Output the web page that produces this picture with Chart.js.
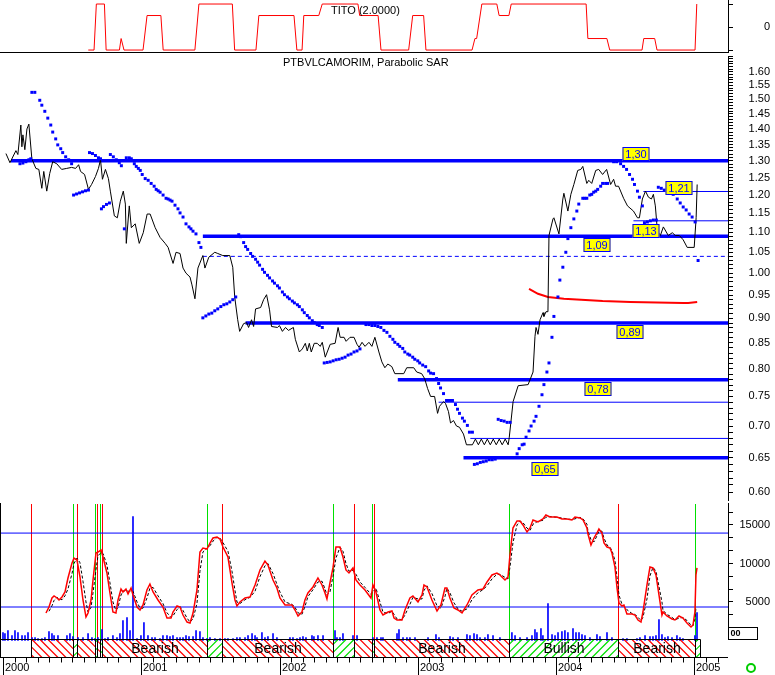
<!DOCTYPE html>
<html>
<head>
<meta charset="utf-8">
<title>PTBVLCAMORIM, Parabolic SAR</title>
<script src="https://cdn.jsdelivr.net/npm/chart.js@4.4.0/dist/chart.umd.min.js"></script>
<style>
  body { margin: 0; background: #fff; }
  #wrap { position: relative; width: 775px; height: 675px; overflow: hidden; }
  canvas { position: absolute; left: 0; }
</style>
</head>
<body>
<div id="wrap">
  <canvas id="titoChart" width="775" height="53" style="top:0"></canvas>
  <canvas id="priceChart" width="775" height="452" style="top:52px"></canvas>
  <canvas id="oscChart" width="775" height="172" style="top:503px"></canvas>
</div>
<script>
// x values are months since January 2000
const yearLabels = ['2000', '2001', '2002', '2003', '2004', '2005'];

// TITO indicator (top panel)
const titoPoints = [[7.4,-2],[7.9,-2],[8.1,2],[8.8,2],[8.95,-2],[10.1,-2],[10.25,-1],[10.5,-2],[12.15,-2],[12.5,1],[13.7,1],[13.9,-2],[16.65,-2],[17.0,2],[19.9,2],[20.1,-2],[21.95,-2],[22.2,1],[25.25,1],[25.5,-2],[25.95,-2],[26.1,1],[27.4,1],[27.7,2],[30.8,2],[30.95,1],[32.55,1],[32.8,-2],[35.2,-2],[35.55,1],[36.5,1],[36.7,-2],[40.7,-2],[40.95,-1],[41.1,-1],[41.55,2],[42.85,2],[43.05,1],[43.9,1],[44.1,2],[50.6,2],[50.75,-1],[52.4,-1],[52.65,-2],[55.45,-2],[55.6,-1],[56.55,-1],[56.75,-2],[60.05,-2],[60.2,2]];
const titoTicks = [-2, 0, 2];

// price (closing)
const pricePoints = [[-0.09,1.322],[0.26,1.294],[0.78,1.331],[0.95,1.319],[1.21,1.413],[1.30,1.343],[1.39,1.381],[1.56,1.334],[1.74,1.400],[1.91,1.416],[2.17,1.306],[2.52,1.277],[2.78,1.274],[3.04,1.219],[3.21,1.268],[3.47,1.211],[3.73,1.262],[3.99,1.297],[4.34,1.291],[4.77,1.274],[5.21,1.277],[5.64,1.280],[5.99,1.277],[6.25,1.288],[6.42,1.268],[6.77,1.259],[7.11,1.216],[7.38,1.230],[7.72,1.253],[7.98,1.277],[8.16,1.303],[8.33,1.245],[8.59,1.274],[8.85,1.247],[9.02,1.211],[9.37,1.143],[9.63,1.138],[9.89,1.183],[10.15,1.211],[10.33,1.175],[10.41,1.072],[10.67,1.170],[10.85,1.112],[11.19,1.122],[11.54,1.072],[11.89,1.099],[12.23,1.148],[12.49,1.148],[12.93,1.112],[13.36,1.087],[13.80,1.072],[14.06,1.062],[14.49,1.023],[14.75,1.050],[15.10,1.047],[15.36,1.012],[15.62,1.000],[15.97,0.991],[16.14,0.973],[16.40,0.942],[16.66,1.012],[17.09,1.042],[17.27,1.012],[17.61,1.038],[18.13,1.050],[18.39,1.047],[18.83,1.042],[19.44,1.042],[19.70,1.014],[19.87,0.946],[20.13,0.897],[20.30,0.873],[20.65,0.889],[20.91,0.891],[21.08,0.881],[21.34,0.897],[21.52,0.883],[21.69,0.920],[22.13,0.923],[22.39,0.940],[22.65,0.951],[22.91,0.918],[23.08,0.883],[23.60,0.881],[23.77,0.885],[24.03,0.873],[24.30,0.881],[24.56,0.875],[24.99,0.881],[25.16,0.857],[25.51,0.832],[25.77,0.838],[26.03,0.849],[26.20,0.834],[26.38,0.849],[26.55,0.832],[26.81,0.849],[27.07,0.849],[27.33,0.843],[27.51,0.851],[27.77,0.822],[28.20,0.847],[28.63,0.849],[28.89,0.881],[29.07,0.861],[29.41,0.861],[29.59,0.853],[29.93,0.861],[30.28,0.861],[30.54,0.847],[30.72,0.841],[30.98,0.851],[31.24,0.843],[31.58,0.851],[31.84,0.843],[32.10,0.861],[32.45,0.832],[32.71,0.813],[32.97,0.802],[33.23,0.809],[33.58,0.804],[33.84,0.791],[34.62,0.791],[34.88,0.802],[35.49,0.802],[35.75,0.794],[36.18,0.791],[36.44,0.782],[36.70,0.764],[36.96,0.750],[37.31,0.750],[37.57,0.721],[37.74,0.733],[38.09,0.741],[38.26,0.738],[38.52,0.724],[38.70,0.705],[38.96,0.709],[39.22,0.700],[39.48,0.698],[39.83,0.687],[40.09,0.670],[40.61,0.670],[40.87,0.679],[41.13,0.670],[41.39,0.679],[41.65,0.670],[41.91,0.679],[42.17,0.670],[42.43,0.679],[42.69,0.670],[42.95,0.679],[43.21,0.670],[43.47,0.679],[43.73,0.670],[43.82,0.681],[44.16,0.741],[44.60,0.769],[45.47,0.771],[45.90,0.794],[46.07,0.863],[46.16,0.881],[46.33,0.867],[46.51,0.897],[46.77,0.912],[46.85,0.904],[47.03,0.914],[47.20,0.914],[47.29,1.092],[47.64,1.135],[47.72,1.138],[48.16,1.096],[48.50,1.189],[48.59,1.205],[48.94,1.156],[49.20,1.202],[49.46,1.230],[49.80,1.271],[50.07,1.274],[50.24,1.283],[50.59,1.233],[50.76,1.242],[51.02,1.233],[51.37,1.271],[51.63,1.274],[51.97,1.259],[52.32,1.274],[52.67,1.230],[52.93,1.245],[53.10,1.225],[53.36,1.225],[53.80,1.191],[54.14,1.170],[54.66,1.156],[55.01,1.138],[55.18,1.138],[55.44,1.189],[55.71,1.211],[55.97,1.194],[56.23,1.189],[56.40,1.202],[56.57,1.170],[56.75,1.104],[57.01,1.092],[57.27,1.114],[57.70,1.092],[58.05,1.099],[58.31,1.092],[58.66,1.092],[59.00,1.081],[59.35,1.062],[59.96,1.062],[60.13,1.138],[60.22,1.230]];

// Parabolic SAR dots
const sarPoints = [[1.13,1.291],[1.39,1.293],[1.65,1.297],[1.91,1.303],[2.08,1.306],
  [2.17,1.525],[2.43,1.525],[2.86,1.497],[3.04,1.480],[3.30,1.459],[3.56,1.436],[3.82,1.413],[3.99,1.390],[4.25,1.368],[4.43,1.349],[4.69,1.337],[4.86,1.325],[5.12,1.312],[5.38,1.303],[5.64,1.291],
  [5.81,1.200],[6.07,1.203],[6.33,1.206],[6.59,1.209],[6.85,1.212],[7.11,1.214],
  [7.20,1.325],[7.46,1.322],[7.72,1.316],[7.98,1.309],[8.16,1.306],
  [8.24,1.162],[8.42,1.168],[8.68,1.174],[8.94,1.178],
  [9.02,1.319],[9.28,1.312],[9.54,1.303],[9.80,1.294],[9.98,1.285],
  [10.24,1.109],
  [10.41,1.309],[10.67,1.309],[10.85,1.306],[11.11,1.291],[11.28,1.283],[11.46,1.277],[11.63,1.271],[11.80,1.259],[12.06,1.247],[12.32,1.242],[12.58,1.233],[12.84,1.225],[13.02,1.216],[13.19,1.212],[13.36,1.208],[13.62,1.200],[13.88,1.191],[14.06,1.189],[14.23,1.186],[14.40,1.183],[14.66,1.172],[14.92,1.162],[15.10,1.151],[15.36,1.140],[15.62,1.122],[15.88,1.114],[16.05,1.109],[16.23,1.103],[16.49,1.096],[16.75,1.074],[16.92,1.062],
  [17.09,0.901],[17.35,0.905],[17.61,0.909],[17.87,0.911],[18.13,0.916],[18.39,0.920],[18.66,0.925],[18.92,0.929],[19.18,0.931],[19.44,0.935],[19.70,0.940],[19.96,0.946],
  [20.22,1.094],[20.39,1.089],[20.65,1.074],[20.82,1.064],[21.00,1.057],[21.26,1.047],[21.43,1.040],[21.69,1.033],[21.87,1.026],[22.04,1.019],[22.30,1.009],[22.47,1.002],[22.73,0.995],[22.91,0.989],[23.17,0.982],[23.34,0.977],[23.60,0.971],[23.77,0.966],[24.03,0.957],[24.21,0.951],[24.47,0.946],[24.64,0.942],[24.90,0.937],[25.08,0.933],[25.34,0.929],[25.51,0.925],[25.77,0.918],[25.94,0.912],[26.20,0.906],[26.38,0.901],[26.64,0.895],[26.81,0.891],[27.07,0.887],[27.25,0.885],[27.51,0.881],
  [27.68,0.811],[27.94,0.812],[28.20,0.813],[28.46,0.815],[28.72,0.817],[28.98,0.818],[29.24,0.820],[29.50,0.822],[29.76,0.826],[30.02,0.828],[30.28,0.832],[30.54,0.834],[30.80,0.838],
  [31.32,0.887],[31.58,0.887],[31.84,0.885],[32.10,0.885],[32.36,0.883],[32.62,0.881],[32.89,0.875],[33.15,0.871],[33.41,0.863],[33.67,0.857],[33.84,0.851],[34.10,0.847],[34.27,0.843],[34.53,0.839],[34.71,0.832],[34.97,0.828],[35.14,0.826],[35.40,0.822],[35.58,0.818],[35.84,0.815],[36.01,0.811],[36.27,0.807],[36.53,0.804],[36.79,0.796],[36.96,0.792],[37.22,0.791],[37.48,0.782],[37.66,0.773],[37.83,0.765],[38.09,0.755],[38.35,0.743],[38.61,0.743],[38.87,0.743],[39.13,0.736],[39.31,0.728],[39.48,0.721],[39.74,0.713],[39.91,0.708],[40.17,0.701],[40.35,0.690],[40.61,0.690],
  [40.78,0.640],[41.04,0.641],[41.30,0.643],[41.56,0.644],[41.82,0.645],[42.08,0.647],[42.34,0.647],[42.60,0.648],
  [42.86,0.711],[43.12,0.709],[43.38,0.708],[43.64,0.706],[43.90,0.706],
  [44.51,0.656],[44.69,0.664],[44.95,0.670],[45.12,0.671],[45.29,0.682],[45.55,0.692],[45.73,0.700],[45.99,0.708],[46.16,0.716],[46.42,0.733],[46.68,0.753],[46.85,0.771],[47.11,0.794],[47.29,0.811],[47.55,0.861],[47.72,0.904],[48.07,0.946],[48.24,0.984],[48.50,1.014],[48.76,1.050],[48.94,1.084],[49.20,1.112],[49.46,1.135],[49.72,1.156],[49.89,1.175],[50.24,1.191],[50.41,1.191],[50.59,1.191],[50.85,1.200],[51.02,1.202],[51.19,1.208],[51.37,1.211],[51.54,1.216],[51.80,1.225],[51.97,1.233],[52.23,1.233],[52.41,1.233],
  [52.93,1.297],[53.19,1.297],[53.54,1.291],[53.80,1.283],[54.06,1.274],[54.32,1.259],[54.58,1.245],[54.75,1.230],[55.01,1.211],[55.18,1.194],[55.44,1.170],
  [55.62,1.125],[55.88,1.127],[56.14,1.130],[56.40,1.132],[56.66,1.132],
  [56.83,1.222],[57.09,1.219],[57.35,1.214],[57.61,1.214],[57.87,1.211],[58.13,1.202],[58.48,1.189],[58.74,1.178],[59.00,1.167],[59.26,1.159],[59.52,1.148],[59.78,1.140],[60.04,1.127],
  [60.30,1.030]];

// red average line in the price panel
const avgPoints = [[45.55,0.964],[46.33,0.953],[47.20,0.946],[48.59,0.942],[51.97,0.937],[54.40,0.935],[59.00,0.933],[59.44,0.933],[60.22,0.935]];

// support / resistance lines: level and month where they start
const thickLevels = [1.30, 1.09, 0.89, 0.78, 0.65];
const thickStarts = [0.35, 17.09, 20.82, 34.10, 39.83];
const thinLevels = [1.21, 1.13, 0.74, 0.68];
const thinStarts = [55.53, 54.66, 37.66, 40.43];
const dashedLevels = [1.04];
const dashedStarts = [17.09];

// yellow level tags
const tagTexts = ['1,30', '1,21', '1,13', '1,09', '0,89', '0,78', '0,65'];
const tagMonths = [54.88, 58.61, 55.79, 51.45, 54.36, 51.58, 46.98];
const tagPrices = [1.320, 1.221, 1.104, 1.067, 0.871, 0.763, 0.633];

const priceTickLabels = [0.60, 0.65, 0.70, 0.75, 0.80, 0.85, 0.90, 0.95, 1.00, 1.05, 1.10, 1.15, 1.20, 1.25, 1.30, 1.35, 1.40, 1.45, 1.50, 1.55, 1.60];

// oscillator (bottom panel): red line and its dashed signal line
const oscPoints = [[3.73,3570],[3.99,4350],[4.25,5520],[4.43,5780],[4.69,5520],[4.86,5260],[5.12,5650],[5.38,6300],[5.64,8120],[5.99,10060],[6.16,10710],[6.42,10450],[6.68,8250],[6.94,5260],[7.20,3050],[7.38,3570],[7.64,5260],[7.81,7860],[8.07,11360],[8.24,11490],[8.50,11750],[8.68,10840],[9.02,8770],[9.28,6170],[9.54,3700],[9.80,3570],[9.98,5260],[10.24,6690],[10.41,6300],[10.67,6690],[10.85,6040],[11.11,6820],[11.28,5910],[11.63,4350],[11.89,3960],[12.15,4610],[12.49,6560],[12.75,7340],[13.02,6300],[13.45,5260],[13.88,4350],[14.23,2920],[14.58,2920],[14.75,3700],[15.10,4480],[15.36,4350],[15.62,3310],[15.97,2400],[16.23,2270],[16.49,3570],[16.83,6560],[17.09,11490],[17.35,12010],[17.70,11880],[17.96,12660],[18.22,13310],[18.57,13440],[18.83,13180],[19.09,12140],[19.52,10840],[19.87,7470],[20.13,5260],[20.30,4480],[20.56,5000],[21.00,5520],[21.43,5650],[21.87,7210],[22.30,9160],[22.73,10320],[22.99,9800],[23.43,7860],[23.77,6820],[24.03,5520],[24.47,4610],[25.08,4610],[25.34,3960],[25.60,3180],[25.94,3700],[26.20,5260],[26.46,6170],[26.90,6950],[27.33,8120],[27.68,7210],[27.94,6170],[28.11,5390],[28.37,7470],[28.63,9420],[28.89,12140],[29.24,12140],[29.50,10840],[29.76,9160],[30.02,8770],[30.37,9420],[30.63,7860],[30.98,7210],[31.41,6560],[31.93,5520],[32.10,7210],[32.36,6300],[32.71,3960],[32.97,3310],[33.41,3700],[33.75,3830],[33.93,2920],[34.19,2660],[34.62,2660],[34.88,3960],[35.31,5520],[35.57,5780],[36.01,5000],[36.36,5910],[36.53,7210],[36.79,6950],[37.22,5260],[37.66,3830],[38.00,4610],[38.35,6820],[38.52,6820],[38.78,5520],[39.13,4220],[39.48,3960],[39.83,3570],[40.26,4610],[40.69,5910],[41.21,6560],[41.65,6690],[42.00,7600],[42.43,8510],[42.86,8770],[43.12,8510],[43.56,7860],[43.82,8250],[43.99,11100],[44.25,14610],[44.60,15520],[44.86,15520],[45.12,15000],[45.47,14090],[45.73,14610],[45.99,15650],[46.42,15390],[46.85,15780],[47.11,16300],[47.46,16040],[48.07,16040],[48.50,15780],[48.94,15780],[49.37,15650],[49.63,16040],[50.07,15910],[50.33,15650],[50.67,14610],[50.76,13830],[51.02,12400],[51.28,13310],[51.54,13960],[51.71,14480],[51.97,13960],[52.15,12660],[52.41,12140],[52.67,12010],[52.84,11360],[53.10,9550],[53.28,6820],[53.45,4870],[53.71,4480],[53.88,4610],[54.14,3440],[54.58,3440],[54.84,3310],[55.10,2660],[55.36,2400],[55.53,3700],[55.88,7210],[56.14,9550],[56.40,9420],[56.66,8510],[56.83,6820],[57.18,3310],[57.27,3700],[57.61,3180],[58.05,2790],[58.31,2660],[58.66,3180],[59.00,2920],[59.35,2270],[59.70,1750],[59.87,2010],[60.04,3700],[60.13,8510],[60.22,9420]];

const oscSignalPoints = [[3.99,3800],[4.25,4500],[4.43,5200],[4.69,5600],[4.86,5400],[5.12,5300],[5.38,5800],[5.64,6700],[5.99,8700],[6.16,10000],[6.42,10700],[6.68,10100],[6.94,7700],[7.20,5000],[7.38,3700],[7.64,4300],[7.81,6200],[8.07,9200],[8.24,11000],[8.50,11400],[8.68,11300],[9.02,9800],[9.28,7500],[9.54,5000],[9.80,3900],[9.98,4300],[10.24,5900],[10.41,6400],[10.67,6500],[10.85,6400],[11.11,6400],[11.28,6400],[11.63,5000],[11.89,4200],[12.15,4200],[12.49,5500],[12.75,6800],[13.02,6900],[13.45,5800],[13.88,4800],[14.23,3600],[14.58,3000],[14.75,3200],[15.10,4000],[15.36,4400],[15.62,3900],[15.97,2900],[16.23,2400],[16.49,2800],[16.83,4800],[17.09,9000],[17.35,11500],[17.70,12000],[17.96,12300],[18.22,12900],[18.57,13400],[18.83,13300],[19.09,12700],[19.52,11600],[19.87,9000],[20.13,6500],[20.30,5000],[20.56,4800],[21.00,5300],[21.43,5600],[21.87,6400],[22.30,8300],[22.73,9700],[22.99,10000],[23.43,8700],[23.77,7300],[24.03,6300],[24.47,5000],[25.08,4700],[25.34,4300],[25.60,3600],[25.94,3400],[26.20,4400],[26.46,5700],[26.90,6600],[27.33,7600],[27.68,7700],[27.94,6700],[28.11,5900],[28.37,6300],[28.63,8300],[28.89,10700],[29.24,12100],[29.50,11600],[29.76,10000],[30.02,9000],[30.37,9100],[30.63,8600],[30.98,7600],[31.41,6900],[31.93,6000],[32.10,6300],[32.36,6800],[32.71,5000],[32.97,3700],[33.41,3500],[33.75,3800],[33.93,3400],[34.19,2800],[34.62,2700],[34.88,3300],[35.31,4700],[35.57,5600],[36.01,5400],[36.36,5400],[36.53,6500],[36.79,7100],[37.22,6100],[37.66,4500],[38.00,4200],[38.35,5700],[38.52,6800],[38.78,6200],[39.13,4900],[39.48,4100],[39.83,3800],[40.26,4100],[40.69,5300],[41.21,6200],[41.65,6600],[42.00,7100],[42.43,8000],[42.86,8600],[43.12,8600],[43.56,8200],[43.82,8000],[43.99,9500],[44.25,12700],[44.60,15000],[44.86,15500],[45.12,15300],[45.47,14600],[45.73,14300],[45.99,15100],[46.42,15500],[46.85,15600],[47.11,16000],[47.46,16100],[48.07,16000],[48.50,15900],[48.94,15800],[49.37,15700],[49.63,15800],[50.07,16000],[50.33,15800],[50.67,15100],[50.76,14200],[51.02,13100],[51.28,12800],[51.54,13600],[51.71,14200],[51.97,14200],[52.15,13300],[52.41,12400],[52.67,12100],[52.84,11700],[53.10,10400],[53.28,8200],[53.45,5900],[53.71,4700],[53.88,4500],[54.14,4000],[54.58,3500],[54.84,3400],[55.10,3000],[55.36,2600],[55.53,3000],[55.88,5400],[56.14,8400],[56.40,9500],[56.66,9000],[56.83,7700],[57.18,5000],[57.27,3900],[57.61,3400],[58.05,3000],[58.31,2700],[58.66,2900],[59.00,3000],[59.35,2600],[59.70,2000],[59.87,1900],[60.04,2800],[60.13,4300]];

// volume bars
const volumePoints = [[0.00,1040],[0.17,910],[0.43,1300],[0.78,650],[1.04,1300],[1.30,1040],[1.65,650],[1.91,650],[2.17,1040],[2.52,390],[2.78,390],[3.04,260],[3.38,260],[3.64,390],[3.99,1170],[4.25,910],[4.43,650],[4.77,650],[5.55,650],[5.81,910],[6.07,520],[6.51,390],[6.94,390],[7.38,910],[7.72,390],[7.98,260],[8.24,390],[8.59,1430],[8.85,260],[9.11,390],[9.54,650],[9.89,390],[10.15,910],[10.41,2600],[10.76,2990],[11.02,1300],[11.28,16100],[11.63,260],[11.97,650],[12.23,2340],[12.58,650],[12.93,390],[13.19,390],[13.62,260],[13.88,650],[14.23,650],[14.49,520],[14.75,650],[15.10,390],[15.36,390],[15.62,390],[15.88,650],[16.14,520],[16.49,520],[16.75,1300],[17.09,1170],[17.35,390],[17.70,260],[17.96,390],[18.39,260],[18.83,260],[19.26,260],[19.52,260],[19.96,260],[20.30,390],[20.56,390],[21.00,390],[21.26,650],[21.61,910],[21.87,650],[22.04,390],[22.47,1040],[22.73,390],[22.99,520],[23.43,910],[23.77,390],[24.90,390],[25.16,390],[25.51,260],[25.77,390],[26.03,520],[26.29,390],[26.81,650],[26.98,520],[27.33,650],[27.77,650],[28.81,1300],[28.98,390],[29.24,390],[29.50,910],[30.37,650],[30.72,650],[32.10,390],[32.45,390],[32.80,390],[32.97,390],[34.19,910],[34.36,1430],[34.71,390],[35.05,390],[35.31,390],[35.75,390],[36.88,390],[37.57,780],[37.83,390],[38.79,520],[39.05,390],[39.48,390],[40.26,780],[40.52,650],[40.87,910],[41.13,780],[41.39,390],[41.82,390],[42.08,780],[42.52,650],[43.12,390],[44.16,1040],[44.43,650],[44.86,390],[45.47,390],[45.90,650],[46.16,1430],[46.33,1040],[46.68,1560],[46.85,650],[47.29,4810],[47.64,780],[47.90,650],[48.16,1040],[48.50,1170],[48.76,1300],[49.02,1040],[49.46,1560],[49.72,1040],[49.98,1040],[50.24,780],[50.50,650],[50.93,390],[51.54,780],[51.80,520],[52.41,1040],[52.84,390],[53.80,260],[54.14,260],[55.01,260],[55.27,390],[55.71,650],[56.14,520],[56.40,520],[56.66,650],[56.92,2730],[57.18,780],[57.44,390],[57.70,520],[58.05,390],[58.48,650],[58.74,390],[59.00,260],[60.04,650],[60.22,3640]];

const oscLevels = [13950, 4350];
const oscTickLabels = [5000, 10000, 15000];

// buy / sell signals and the Bearish / Bullish band
const signalMonths = [2.43, 6.07, 6.42, 7.98, 8.16, 8.42, 8.59, 17.70, 19.00, 28.63, 30.46, 32.02, 32.19, 43.90, 53.36, 60.04];
const signalTypes = ['sell', 'buy', 'sell', 'buy', 'sell', 'buy', 'sell', 'buy', 'sell', 'buy', 'sell', 'buy', 'sell', 'buy', 'sell', 'buy'];
const bandEnd = 60.48;

// ---------------------------------------------------------------
const FONT = '"Liberation Sans", Arial, sans-serif';
const X_MIN = -0.26, X_MAX = 62.91;
const BLUE = '#0000ff';

Chart.defaults.font.family = FONT;
Chart.defaults.font.size = 11;
Chart.defaults.color = '#000';

const toXY = arr => arr.map(([x, y]) => ({ x: x, y: y }));
const xAxis = { type: 'linear', min: X_MIN, max: X_MAX, display: false, offset: false };

function yAxisRight(extra) {
    return Object.assign({
        position: 'right',
        border: { display: true, color: '#000', width: 1 },
        grid: { drawOnChartArea: false, tickLength: 5, tickColor: '#000', tickWidth: 1 },
        afterFit(s) { s.width = 42; s.paddingTop = 0; s.paddingBottom = 0; }
    }, extra);
}

const baseOptions = {
    responsive: false,
    devicePixelRatio: 1,
    animation: false,
    events: [],
    plugins: { legend: { display: false }, tooltip: { enabled: false } }
};

// ---- top panel
const titoDecor = {
    id: 'titoDecor',
    afterDraw(chart) {
        const { ctx, chartArea: a } = chart;
        ctx.save();
        ctx.strokeStyle = '#000';
        ctx.lineWidth = 1;
        ctx.beginPath();
        ctx.moveTo(0, a.bottom + 0.5);
        ctx.lineTo(a.right, a.bottom + 0.5);
        ctx.stroke();
        ctx.fillStyle = '#000';
        ctx.font = '11px ' + FONT;
        ctx.textBaseline = 'middle';
        ctx.fillText('TITO (2.0000)', 331, 10.5);
        ctx.restore();
    }
};

new Chart(document.getElementById('titoChart'), {
    type: 'line',
    data: {
        datasets: [{
            data: toXY(titoPoints),
            borderColor: '#ff0000',
            borderWidth: 1,
            pointRadius: 0,
            tension: 0
        }]
    },
    options: Object.assign({}, baseOptions, {
        layout: { padding: { left: 0, right: 5, top: 0, bottom: 1 } },
        scales: {
            x: xAxis,
            y: yAxisRight({
                min: -2.17,
                max: 2.35,
                afterBuildTicks(s) { s.ticks = titoTicks.map(v => ({ value: v })); },
                ticks: { autoSkip: false, padding: 2, crossAlign: 'far', callback: v => (v === 0 ? '0' : '') }
            })
        }
    }),
    plugins: [titoDecor]
});

// ---- price panel
const priceDecor = {
    id: 'priceDecor',
    afterDatasetsDraw(chart) {
        const { ctx, scales: { x, y } } = chart;
        ctx.save();
        ctx.font = '11px ' + FONT;
        ctx.textAlign = 'center';
        ctx.textBaseline = 'middle';
        tagTexts.forEach((t, i) => {
            const px = Math.round(x.getPixelForValue(tagMonths[i]));
            const py = Math.round(y.getPixelForValue(tagPrices[i]));
            const w = Math.round(ctx.measureText(t).width) + 6;
            const h = 14;
            ctx.fillStyle = '#ffff00';
            ctx.fillRect(px - w / 2, py - h / 2, w, h);
            ctx.strokeStyle = BLUE;
            ctx.lineWidth = 1;
            ctx.strokeRect(px - w / 2 + 0.5, py - h / 2 + 0.5, w - 1, h - 1);
            ctx.fillStyle = BLUE;
            ctx.fillText(t, px, py + 0.5);
        });
        ctx.fillStyle = '#000';
        ctx.textAlign = 'left';
        ctx.fillText('PTBVLCAMORIM, Parabolic SAR', 283, 11);
        ctx.restore();
    }
};

const levelSets = [];
thickLevels.forEach((v, i) => levelSets.push({
    data: [{ x: thickStarts[i], y: v }, { x: X_MAX, y: v }],
    borderColor: BLUE, borderWidth: 3.5, pointRadius: 0, order: 5
}));
thinLevels.forEach((v, i) => levelSets.push({
    data: [{ x: thinStarts[i], y: v }, { x: X_MAX, y: v }],
    borderColor: BLUE, borderWidth: 1, pointRadius: 0, order: 5
}));
dashedLevels.forEach((v, i) => levelSets.push({
    data: [{ x: dashedStarts[i], y: v }, { x: X_MAX, y: v }],
    borderColor: BLUE, borderWidth: 1, borderDash: [4, 3], pointRadius: 0, order: 5
}));

new Chart(document.getElementById('priceChart'), {
    type: 'line',
    data: {
        datasets: [
            {
                label: 'Parabolic SAR',
                data: toXY(sarPoints),
                showLine: false,
                pointStyle: 'rect',
                pointRadius: 2.1,
                pointBorderWidth: 0,
                pointBackgroundColor: BLUE,
                order: 0
            },
            {
                label: 'PTBVLCAMORIM',
                data: toXY(pricePoints),
                borderColor: '#000',
                borderWidth: 1,
                pointRadius: 0,
                tension: 0,
                order: 1
            },
            {
                label: 'Average',
                data: toXY(avgPoints),
                borderColor: '#ff0000',
                borderWidth: 2,
                pointRadius: 0,
                tension: 0,
                order: 2
            }
        ].concat(levelSets)
    },
    options: Object.assign({}, baseOptions, {
        layout: { padding: { left: 0, right: 5, top: 0, bottom: 2 } },
        scales: {
            x: xAxis,
            y: yAxisRight({
                type: 'logarithmic',
                min: 0.589,
                max: 1.660,
                afterBuildTicks(s) {
                    const t = [];
                    for (let k = 60; k <= 166; k++) t.push({ value: k / 100 });
                    s.ticks = t;
                },
                ticks: {
                    autoSkip: false,
                    padding: 2,
                    crossAlign: 'far',
                    callback: v => (priceTickLabels.some(p => Math.abs(p - v) < 1e-6) ? v.toFixed(2) : '')
                }
            })
        }
    }),
    plugins: [priceDecor]
});

// ---- oscillator / volume panel
// diagonal hatching clipped to one band segment
function hatchRect(ctx, x1, x2, top, bot, color, slope) {
    const h = bot - top;
    ctx.save();
    ctx.beginPath();
    ctx.rect(x1, top, x2 - x1, h);
    ctx.clip();
    ctx.strokeStyle = color;
    ctx.lineWidth = 1.2;
    ctx.beginPath();
    for (let s = Math.floor(x1 / 8) * 8 - 24; s < x2 + 8; s += 8) {
        if (slope > 0) { ctx.moveTo(s, top); ctx.lineTo(s + h, bot); }
        else { ctx.moveTo(s, bot); ctx.lineTo(s + h, top); }
    }
    ctx.stroke();
    ctx.restore();
}

const oscDecor = {
    id: 'oscDecor',
    beforeDatasetsDraw(chart) {
        const { ctx, chartArea: a, scales: { x, y } } = chart;
        const yZero = Math.round(y.getPixelForValue(0));
        ctx.save();
        ctx.lineWidth = 1;
        signalMonths.forEach((m, i) => {
            const px = Math.round(x.getPixelForValue(m)) + 0.5;
            ctx.strokeStyle = signalTypes[i] === 'buy' ? '#00e000' : '#ff0000';
            ctx.beginPath();
            ctx.moveTo(px, a.top + 1);
            ctx.lineTo(px, yZero);
            ctx.stroke();
        });
        ctx.restore();
    },
    afterDraw(chart) {
        const { ctx, chartArea: a, scales: { x, y } } = chart;
        const top = Math.round(y.getPixelForValue(0)) - 0.5;
        const bot = Math.round(a.bottom) - 0.5;
        const endPx = Math.round(x.getPixelForValue(bandEnd)) + 0.5;
        ctx.save();

        // band segments
        const bounds = signalMonths.map(m => Math.round(x.getPixelForValue(m)) + 0.5).concat([endPx]);
        ctx.font = '14px ' + FONT;
        ctx.textAlign = 'center';
        ctx.textBaseline = 'middle';
        signalTypes.forEach((t, i) => {
            const x1 = bounds[i], x2 = bounds[i + 1];
            if (t === 'buy') hatchRect(ctx, x1, x2, top, bot, '#00e000', -1);
            else hatchRect(ctx, x1, x2, top, bot, '#ff0000', 1);
            const label = t === 'buy' ? 'Bullish' : 'Bearish';
            if (x2 - x1 > ctx.measureText(label).width + 6) {
                ctx.fillStyle = '#000';
                ctx.fillText(label, (x1 + x2) / 2, (top + bot) / 2 + 1);
            }
        });

        ctx.strokeStyle = '#000';
        ctx.lineWidth = 1;
        ctx.beginPath();
        ctx.moveTo(0, top); ctx.lineTo(endPx, top);
        ctx.moveTo(0, bot); ctx.lineTo(a.right, bot);
        bounds.forEach(b => { ctx.moveTo(b, top); ctx.lineTo(b, bot); });
        // left border and right axis line
        ctx.moveTo(0.5, a.top); ctx.lineTo(0.5, bot);
        ctx.moveTo(Math.round(a.right) + 0.5, a.top); ctx.lineTo(Math.round(a.right) + 0.5, top - 12);
        ctx.stroke();

        // time axis: month ticks and year labels
        ctx.beginPath();
        for (let m = 0; m <= 62; m++) {
            const px = Math.round(x.getPixelForValue(m)) + 0.5;
            ctx.moveTo(px, bot);
            ctx.lineTo(px, m % 12 === 0 ? chart.height : bot + 5);
        }
        ctx.stroke();
        ctx.font = '11px ' + FONT;
        ctx.textAlign = 'left';
        ctx.fillStyle = '#000';
        yearLabels.forEach((lab, i) => {
            ctx.fillText(lab, Math.round(x.getPixelForValue(i * 12)) + 2, bot + 10);
        });

        // small box under the right scale and the status circle
        const bx = Math.round(a.right) + 0.5;
        ctx.strokeRect(bx, top - 12, 29, 12);
        ctx.font = 'bold 9px ' + FONT;
        ctx.fillText('00', bx + 2, top - 5.5);
        ctx.strokeStyle = '#00cc00';
        ctx.lineWidth = 2;
        ctx.beginPath();
        ctx.arc(751, chart.height - 7, 4, 0, Math.PI * 2);
        ctx.stroke();
        ctx.restore();
    }
};

new Chart(document.getElementById('oscChart'), {
    type: 'line',
    data: {
        datasets: [
            {
                label: 'Oscillator',
                data: toXY(oscPoints),
                borderColor: '#ff0000',
                borderWidth: 1.5,
                pointRadius: 0,
                tension: 0,
                order: 0
            },
            {
                label: 'Signal',
                data: toXY(oscSignalPoints),
                borderColor: '#000',
                borderWidth: 1,
                borderDash: [3, 2],
                pointRadius: 0,
                tension: 0,
                order: 1
            },
            {
                type: 'bar',
                label: 'Volume',
                data: toXY(volumePoints),
                backgroundColor: BLUE,
                barThickness: 1,
                order: 3
            }
        ].concat(oscLevels.map(v => ({
            data: [{ x: X_MIN, y: v }, { x: X_MAX, y: v }],
            borderColor: BLUE,
            borderWidth: 1,
            pointRadius: 0,
            order: 2
        })))
    },
    options: Object.assign({}, baseOptions, {
        layout: { padding: { left: 0, right: 5, top: 0, bottom: 17 } },
        scales: {
            x: xAxis,
            y: yAxisRight({
                min: -2273,
                max: 17857,
                border: { display: false },
                afterBuildTicks(s) {
                    const t = [];
                    for (let k = 1; k <= 10; k++) t.push({ value: k * 5000 / 3 });
                    s.ticks = t;
                },
                ticks: {
                    autoSkip: false,
                    padding: 2,
                    crossAlign: 'far',
                    callback: v => (oscTickLabels.some(p => Math.abs(p - v) < 1e-6) ? String(Math.round(v)) : '')
                }
            })
        }
    }),
    plugins: [oscDecor]
});
</script>
</body>
</html>
